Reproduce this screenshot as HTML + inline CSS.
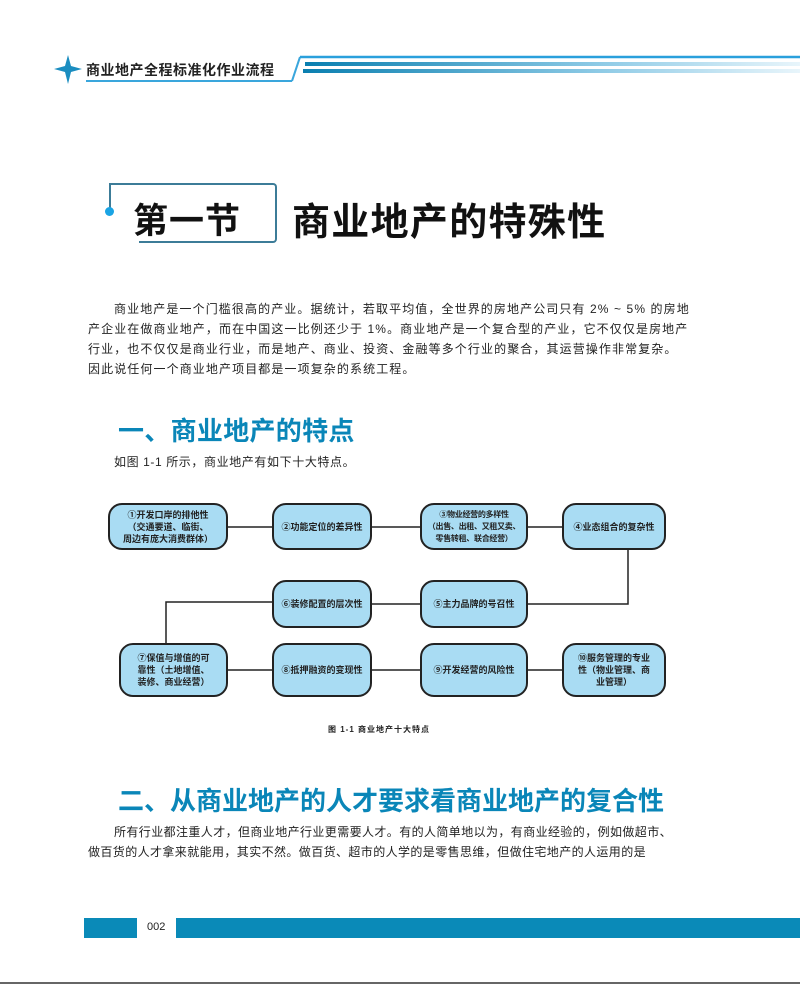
<!DOCTYPE html>
<html><head><meta charset="utf-8"><style>
*{margin:0;padding:0;box-sizing:border-box}
body{width:800px;height:987px;background:#fff;position:relative;overflow:hidden;font-family:"Liberation Sans","Noto Sans CJK SC",sans-serif;color:#222}
.a{position:absolute;white-space:nowrap}
.p{font-size:12px;letter-spacing:1.1px}
.h2{font-size:26px;font-weight:bold;color:#0a86b8;letter-spacing:0.3px}
.bx{position:absolute;background:#a9dcf3;border:2px solid #222;border-radius:14px;display:flex;align-items:center;justify-content:center;text-align:center;font-size:9px;font-weight:bold;line-height:12px;padding:1px}
</style></head><body>
<svg class="a" style="left:0;top:0" width="800" height="100">
<path d="M68 55 L71 66 L82 69 L71 72 L68 84 L65 72 L54 69 L65 66Z" fill="#1a8dc0"/>
<line x1="86" y1="81" x2="292" y2="81" stroke="#3aa6dc" stroke-width="2"/>
<line x1="292" y1="81" x2="300" y2="57" stroke="#3aa6dc" stroke-width="2"/>
<line x1="300" y1="57" x2="800" y2="57" stroke="#2aa0dc" stroke-width="2.5"/>
<defs><linearGradient id="g" x1="0" x2="1"><stop offset="0" stop-color="#0a7fb0"/><stop offset="0.6" stop-color="#8fcbe6"/><stop offset="1" stop-color="#e8f5fb"/></linearGradient></defs>
<rect x="305" y="62" width="495" height="4" fill="url(#g)"/>
<rect x="303" y="69" width="497" height="4" fill="url(#g)"/>
</svg>
<div class="a" style="left:86px;top:60px;font-size:14px;font-weight:bold;letter-spacing:0.5px">商业地产全程标准化作业流程</div>
<div class="a" style="left:109px;top:183px;width:168px;height:60px;border:2px solid #3c7c98;border-left:none;border-radius:0 4px 4px 0"></div>
<div class="a" style="left:109px;top:183px;width:2px;height:28px;background:#3c7c98"></div>
<div class="a" style="left:105px;top:207px;width:9px;height:9px;border-radius:50%;background:#1aa4e4"></div>
<div class="a" style="left:109px;top:241px;width:30px;height:2px;background:#fff"></div>
<div class="a" style="left:133px;top:193px;font-size:35px;font-weight:bold;color:#111;letter-spacing:1px">第一节</div>
<div class="a" style="left:292px;top:191px;font-size:38px;font-weight:bold;color:#111;letter-spacing:1.3px">商业地产的特殊性</div>
<div class="a p" style="left:114px;top:300px">商业地产是一个门槛很高的产业。据统计，若取平均值，全世界的房地产公司只有 2% ~ 5% 的房地</div>
<div class="a p" style="left:88px;top:320px">产企业在做商业地产，而在中国这一比例还少于 1%。商业地产是一个复合型的产业，它不仅仅是房地产</div>
<div class="a p" style="left:88px;top:340px">行业，也不仅仅是商业行业，而是地产、商业、投资、金融等多个行业的聚合，其运营操作非常复杂。</div>
<div class="a p" style="left:88px;top:360px">因此说任何一个商业地产项目都是一项复杂的系统工程。</div>
<div class="a h2" style="left:118px;top:411px">一、商业地产的特点</div>
<div class="a p" style="left:114px;top:453px;letter-spacing:0.6px">如图 1-1 所示，商业地产有如下十大特点。</div>
<svg class="a" style="left:0;top:0" width="800" height="987">
<g stroke="#222" stroke-width="1.5" fill="none">
<line x1="228" y1="527" x2="272" y2="527"/><line x1="372" y1="527" x2="420" y2="527"/><line x1="528" y1="527" x2="562" y2="527"/>
<polyline points="628,550 628,604 528,604"/><line x1="372" y1="604" x2="420" y2="604"/>
<polyline points="272,602 166,602 166,643"/>
<line x1="228" y1="670" x2="272" y2="670"/><line x1="372" y1="670" x2="420" y2="670"/><line x1="528" y1="670" x2="562" y2="670"/>
</g></svg>
<div class="bx" style="left:108px;top:503px;width:120px;height:47px">①开发口岸的排他性<br>（交通要道、临街、<br>周边有庞大消费群体）</div>
<div class="bx" style="left:272px;top:503px;width:100px;height:47px">②功能定位的差异性</div>
<div class="bx" style="left:420px;top:503px;width:108px;height:47px;font-size:8px;letter-spacing:-0.3px">③物业经营的多样性<br>（出售、出租、又租又卖、<br>零售转租、联合经营）</div>
<div class="bx" style="left:562px;top:503px;width:104px;height:47px">④业态组合的复杂性</div>
<div class="bx" style="left:272px;top:580px;width:100px;height:48px">⑥装修配置的层次性</div>
<div class="bx" style="left:420px;top:580px;width:108px;height:48px">⑤主力品牌的号召性</div>
<div class="bx" style="left:119px;top:643px;width:109px;height:54px">⑦保值与增值的可<br>靠性（土地增值、<br>装修、商业经营）</div>
<div class="bx" style="left:272px;top:643px;width:100px;height:54px">⑧抵押融资的变现性</div>
<div class="bx" style="left:420px;top:643px;width:108px;height:54px">⑨开发经营的风险性</div>
<div class="bx" style="left:562px;top:643px;width:104px;height:54px">⑩服务管理的专业<br>性（物业管理、商<br>业管理）</div>
<div class="a" style="left:328px;top:724px;font-size:8px;font-weight:bold;letter-spacing:1px">图 1-1 商业地产十大特点</div>
<div class="a h2" style="left:118px;top:781px;letter-spacing:0">二、从商业地产的人才要求看商业地产的复合性</div>
<div class="a p" style="left:114px;top:823px;letter-spacing:0.4px">所有行业都注重人才，但商业地产行业更需要人才。有的人简单地以为，有商业经验的，例如做超市、</div>
<div class="a p" style="left:88px;top:843px;letter-spacing:0.4px">做百货的人才拿来就能用，其实不然。做百货、超市的人学的是零售思维，但做住宅地产的人运用的是</div>
<div class="a" style="left:84px;top:918px;width:53px;height:20px;background:#0a8ab8"></div>
<div class="a" style="left:147px;top:921px;font-size:11px">002</div>
<div class="a" style="left:176px;top:918px;width:624px;height:20px;background:#0a8ab8"></div>
<div class="a" style="left:0;top:982px;width:800px;height:2px;background:#666"></div>
</body></html>
